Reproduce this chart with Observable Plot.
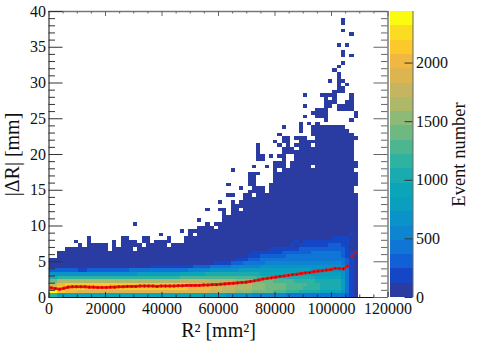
<!DOCTYPE html>
<html><head><meta charset="utf-8">
<style>html,body{margin:0;padding:0;background:#fff}#w{position:relative;width:485px;height:350px;overflow:hidden}#w svg{position:absolute;left:0;top:0;background:transparent}</style>
<script src="https://cdn.jsdelivr.net/npm/d3@7"></script>
<script src="https://cdn.jsdelivr.net/npm/@observablehq/plot@0.6"></script>
</head><body><div id="w"></div>
<script>
// histogram bin sizes
const binX = 1500, binY = 0.5, countStep = 122, colorMax = 2440;
// number of filled rows in each R² column (rows counted from 0)
const tops = [11,11,13,13,14,14,14,15,14,17,16,15,15,15,13,15,14,17,17,16,16,15,17,17,15,16,16,16,17,15,15,15,17,19,19,20,20,21,20,21,21,25,23,27,26,27,29,30,31,31,31,29,32,38,38,45,45,43,45,45,45,44,48,49,48,48,48,48,48,48,47,46,38];
// empty bins below the top of a column
const holes = [[10,15],[20,13],[20,17],[22,14],[28,14],[34,17],[39,19],[45,24],[48,28],[54,35],[55,42],[56,36],[56,37],[56,38],[56,39],[57,38],[57,39],[57,42],[58,41],[58,43],[62,36],[62,42],[62,44],[72,29],[72,30],[72,35]];
// isolated bins above the top of a column
const strays = [[6,15],[15,15],[20,20],[26,17],[31,18],[35,21],[37,24],[40,24],[40,26],[42,28],[42,31],[43,28],[43,35],[45,30],[47,31],[47,32],[47,33],[47,34],[48,31],[48,32],[48,33],[48,34],[48,36],[49,34],[49,38],[49,39],[49,40],[49,41],[49,42],[50,38],[50,39],[51,36],[52,39],[53,43],[54,39],[54,42],[54,45],[55,47],[59,46],[59,47],[59,48],[60,50],[60,53],[60,56],[61,48],[62,51],[63,50],[63,51],[63,52],[64,50],[64,51],[64,52],[64,56],[65,49],[65,50],[65,51],[65,52],[65,53],[65,54],[65,55],[65,56],[66,53],[66,54],[66,56],[66,60],[67,54],[67,55],[67,56],[67,57],[67,63],[68,52],[68,53],[68,57],[68,58],[68,59],[68,60],[68,61],[68,62],[68,64],[68,70],[69,52],[69,53],[69,57],[69,58],[69,60],[69,65],[69,67],[69,68],[69,74],[69,76],[69,77],[70,52],[70,53],[70,54],[70,59],[70,70],[71,49],[71,52],[71,53],[71,54],[71,55],[71,56],[71,67],[71,73],[72,44],[72,50],[72,51]];
// colour band of the low rows, base 20, one string per ΔR row
const bandRows = [
"99 66 77777777777 77777777777777 77777776 666665 5555544 444444 333333 3333333 3210",
"jj hh gggffffffff ffffffffffffff ffffffff feeedd dccccbb bbbaaa 999888 8877777 5310",
"gg hh hhhhhhhhhhh hhhhhhhhhhhhhh hhhhgggg gfffee eddddcc cbbbbb aaaa99 9988888 6310",
"ee gg hhhhhhhhhhh hhhhhhhhhhhhhh hhhhgggg gfffee eddddcc cbbbbb aaaaa9 9988888 6310",
"bb dd ddddddddddd dddddddddddddd ddeeeeee eddddd dcccccc bbbaaa aa9999 9888888 6310",
"88 99 99999999999 99999999999999 99aaaaaa aaaaaa aaaaaa9 999999 888888 8777777 5310",
"55 55 55555555555 55555566666666 66777777 888888 8888888 777777 777777 6666666 5310",
"22 22 22211222222 22223333333333 33334444 455555 5566666 666666 666666 5555555 5310",
"00 00 00000000000 00000000011111 11111222 233333 4444444 555555 555555 5555555 4210",
"00 00 00000000000 00000000000000 00000000 001111 2223333 344444 444444 4444444 3210",
"00 00 00000000000 00000000000000 00000000 000000 0111222 333333 333333 3333333 3210",
"00 00 00000000000 00000000000000 00000000 000000 0000111 222222 333333 3333333 2110",
"00 00 00000000000 00000000000000 00000000 000000 0000011 111112 222222 3333333 2110",
"00 00 00000000000 00000000000000 00000000 000000 0000000 001111 111222 2222222 2100",
"00 00 00000000000 00000000000000 00000000 000000 0000000 000000 010111 1111222 1100",
"00 00 00000000000 00000000000000 00000000 000000 0000000 000000 001011 1111111 1100",
"00 00 00000000000 00000000000000 00000000 000000 0000000 000000 000000 0000011 1100",
"00 00 00000000000 00000000000000 00000000 000000 0000000 000000 000000 0000000 0010"
];
// mean |ΔR| per column
const meanDR = [1.35,1.25,1.15,1.3,1.45,1.5,1.5,1.5,1.5,1.45,1.45,1.4,1.4,1.4,1.45,1.45,1.5,1.5,1.55,1.55,1.55,1.6,1.6,1.6,1.6,1.55,1.6,1.6,1.6,1.6,1.65,1.65,1.7,1.7,1.7,1.7,1.75,1.75,1.8,1.8,1.85,1.9,1.95,2.0,2.05,2.1,2.15,2.25,2.35,2.45,2.6,2.7,2.75,2.85,2.95,3.0,3.1,3.2,3.25,3.35,3.45,3.5,3.6,3.7,3.75,3.85,3.9,4.1,4.05,4.0,4.4,5.8,6.3];
const connectedCols = 71;
// ticks
const xMajor = [0,20000,40000,60000,80000,100000,120000];
const xMinor = [5000,10000,15000,25000,30000,35000,45000,50000,55000,65000,70000,75000,85000,90000,95000,105000,110000,115000];
const yMajor = [0,5,10,15,20,25,30,35,40];
const yMinor = [1,2,3,4,6,7,8,9,11,12,13,14,16,17,18,19,21,22,23,24,26,27,28,29,31,32,33,34,36,37,38,39];
const cMajor = [0,500,1000,1500,2000];
const palette = ["#2a3ca1","#1546c6","#1160d6","#0f76d5","#0e85cf","#0a93c8","#0a9fbf","#0aa5b8","#1aaab0","#2db3a0","#4db58f","#6eb982","#8dba76","#adb968","#c6b560","#dcb450","#f0b840","#fdc82c","#fadc20","#fbfb10"];
const thresholds = [122,244,366,488,610,732,854,976,1098,1220,1342,1464,1586,1708,1830,1952,2074,2196,2318];

const serif = {fontFamily:"'Liberation Serif',serif", fontSize:"16px", background:"transparent"};
const levelAt = (c,r) => { const s = (bandRows[r]||"").replace(/ /g,""); return parseInt(s[c]||"0",20); };
const holeSet = new Set(holes.map(d=>d.join()));
const cells = [];
tops.forEach((t,c)=>{ for(let r=0;r<t;r++) if(!holeSet.has(c+","+r)) cells.push({c,r}); });
strays.forEach(([c,r])=>cells.push({c,r}));
cells.forEach(d=>{d.n=(levelAt(d.c,d.r)+0.5)*countStep;});
const profile = meanDR.map((v,c)=>({x:(c+0.5)*binX,v}));
const colorOpt = {type:"threshold",domain:thresholds,range:palette};
const ink = "#333", ink2 = "#666";
const fw = 339, fh = 286;

const main = Plot.plot({
  width:485,height:350,marginLeft:48.5,marginRight:97.5,marginTop:11,marginBottom:53,
  style:serif,
  x:{domain:[0,120000],label:null,axis:null},
  y:{domain:[0,40],label:null,axis:null},
  color:colorOpt,
  marks:[
    Plot.rect(cells,{x1:d=>d.c*binX,x2:d=>(d.c+1)*binX,y1:d=>d.r*binY,y2:d=>(d.r+1)*binY,fill:"n",shapeRendering:"crispEdges"}),
    Plot.line(profile.slice(0,connectedCols),{x:"x",y:"v",stroke:"#f01010",strokeWidth:2.6}),
    Plot.dot(profile,{x:"x",y:"v",r:1.7,fill:"#f01010"}),
    Plot.dot(profile,{x:"x",y:"v",r:0.55,fill:"#400"}),
    Plot.ruleY([40],{stroke:"#777",strokeWidth:1.5}),
    Plot.ruleX([120000],{stroke:"#777",strokeWidth:1.5}),
    Plot.ruleY([0],{stroke:"#111"}),
    Plot.ruleX([0],{stroke:"#111"}),
    // inward ticks on all four sides
    Plot.tickX(xMajor,{x:d=>d,insetTop:fh-5,stroke:ink}),
    Plot.tickX(xMinor,{x:d=>d,insetTop:fh-2.5,stroke:ink}),
    Plot.tickX(xMajor,{x:d=>d,insetBottom:fh-5,stroke:ink2}),
    Plot.tickX(xMinor,{x:d=>d,insetBottom:fh-2.5,stroke:ink2}),
    Plot.tickY(yMajor,{y:d=>d,insetRight:fw-14,stroke:ink}),
    Plot.tickY(yMinor,{y:d=>d,insetRight:fw-6.5,stroke:ink}),
    Plot.tickY(yMajor,{y:d=>d,insetLeft:fw-14,stroke:ink2}),
    Plot.tickY(yMinor,{y:d=>d,insetLeft:fw-6.5,stroke:ink2}),
    // labels
    Plot.text(xMajor,{x:d=>d,y:0,text:d=>String(d),dy:11,fill:"#111"}),
    Plot.text(yMajor,{x:0,y:d=>d,text:d=>String(d),dx:-3,textAnchor:"end",fill:"#111"}),
    Plot.text(["R² [mm²]"],{x:[60000],y:[0],text:d=>d,dy:33,fontSize:20,fill:"#111"}),
    Plot.text(["|ΔR| [mm]"],{frameAnchor:"left",textAnchor:"middle",text:d=>d,rotate:-90,dx:-36,fontSize:20,fill:"#111"})
  ]
});
main.style.background="transparent";

const bands = palette.map((_,i)=>({i}));
const bar = Plot.plot({
  width:485,height:350,marginLeft:389.5,marginRight:72.5,marginTop:11,marginBottom:53,
  style:serif,
  x:{domain:[0,1],axis:null},
  y:{domain:[0,colorMax],axis:null},
  color:colorOpt,
  marks:[
    Plot.rect(bands,{x1:0,x2:1,y1:d=>d.i*countStep,y2:d=>Math.min((d.i+1)*countStep,colorMax),fill:d=>(d.i+0.5)*countStep,shapeRendering:"crispEdges"}),
    Plot.ruleX([1],{stroke:"#666",strokeWidth:1}),
    Plot.tickY(cMajor,{y:d=>d,insetLeft:15,stroke:"#333"}),
    Plot.text(cMajor,{x:1,y:d=>d,text:d=>String(d),dx:3,textAnchor:"start",fill:"#111"}),
    Plot.text(["Event number"],{x:[1],y:[1220],text:d=>d,rotate:-90,dx:46,fontSize:18.5,fill:"#111"})
  ]
});
bar.style.background="transparent";
document.getElementById("w").append(main,bar);
</script></body></html>
